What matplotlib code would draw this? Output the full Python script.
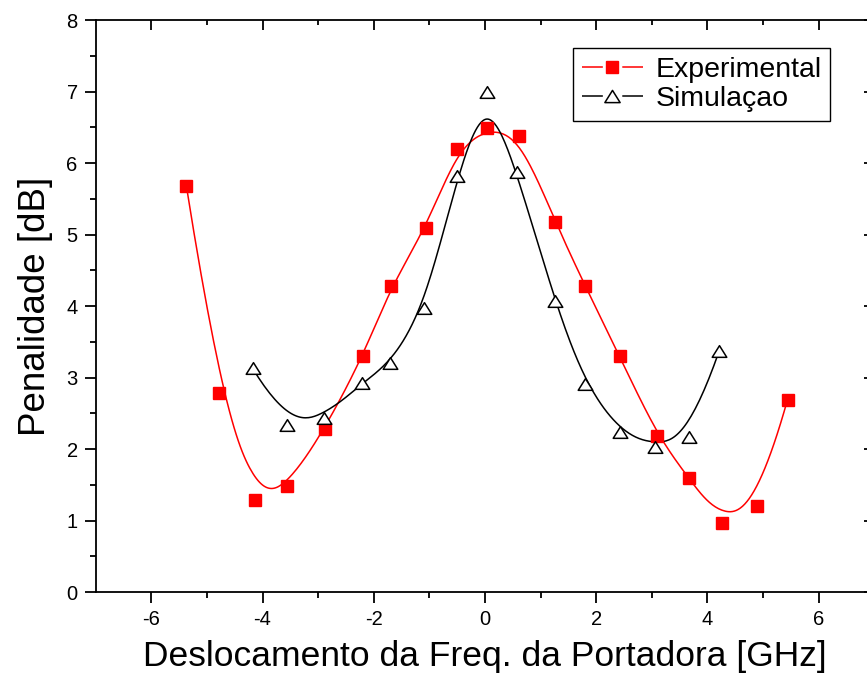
import numpy as np
import matplotlib.pyplot as plt
from matplotlib.path import Path

plt.rcParams['font.family'] = ['Liberation Sans', 'DejaVu Sans']
plt.rcParams['axes.unicode_minus'] = False
plt.rcParams['lines.scale_dashes'] = False

# Penalty vs carrier frequency offset
exp_freq = [-5.37, -4.78, -4.14, -3.56, -2.88, -2.19, -1.69, -1.06, -0.50, 0.04,
            0.62, 1.26, 1.80, 2.42, 3.10, 3.67, 4.26, 4.90, 5.44]
exp_pen = [5.68, 2.79, 1.29, 1.48, 2.28, 3.30, 4.28, 5.09, 6.19, 6.49,
           6.38, 5.18, 4.28, 3.30, 2.18, 1.59, 0.97, 1.20, 2.69]

sim_freq = [-4.18, -3.56, -2.90, -2.22, -1.70, -1.09, -0.50, 0.03, 0.58, 1.25,
            1.80, 2.43, 3.06, 3.67, 4.21]
sim_pen = [3.13, 2.34, 2.44, 2.92, 3.20, 3.97, 5.82, 7.00, 5.87, 4.07,
           2.91, 2.24, 2.03, 2.17, 3.37]


def bspline(xs, ys, npts=400):
    # clamped cubic B-spline using the data points as control points
    P = np.column_stack([xs, ys])
    n = len(P)
    k = 3
    knots = np.concatenate([np.zeros(k), np.arange(n - k + 1), np.full(k, n - k)]).astype(float)
    t = np.linspace(0, n - k, npts)
    t[-1] -= 1e-9
    N = np.zeros((npts, len(knots) - 1))
    for i in range(len(knots) - 1):
        N[:, i] = (knots[i] <= t) & (t < knots[i + 1])
    for d in range(1, k + 1):
        Nn = np.zeros((npts, len(knots) - 1 - d))
        for i in range(len(knots) - 1 - d):
            a = knots[i + d] - knots[i]
            b = knots[i + d + 1] - knots[i + 1]
            left = (t - knots[i]) / a * N[:, i] if a > 0 else 0
            right = (knots[i + d + 1] - t) / b * N[:, i + 1] if b > 0 else 0
            Nn[:, i] = left + right
        N = Nn
    C = N @ P
    return C[:, 0], C[:, 1]


tri = Path([(0, 0.8), (-1, -0.8), (1, -0.8), (0, 0.8)],
           [Path.MOVETO, Path.LINETO, Path.LINETO, Path.CLOSEPOLY])

fig = plt.figure(figsize=(8.67, 6.93), dpi=100)
ax = fig.add_axes([0.1104, 0.1457, 0.898, 0.8254])

ex, ey = bspline(exp_freq, exp_pen)
sx, sy = bspline(sim_freq, sim_pen)
ax.plot(ex, ey, color='red', lw=1.1, zorder=2)
ax.plot(sx, sy, color='black', lw=1.1, zorder=2)
ax.plot(exp_freq, exp_pen, ls='none', marker='s', ms=9, color='red', zorder=3)
ax.plot(sim_freq, sim_pen, ls='none', marker=tri, ms=10.5, mfc='white',
        mec='black', mew=1.1, zorder=4)

# legend handles: line - gap - marker - gap - line
dash = (0, (15, 14, 15, 0))
h1, = ax.plot([], [], color='red', lw=1.1, ls=dash, marker='s', ms=9)
h2, = ax.plot([], [], color='black', lw=1.1, ls=dash, marker=tri, ms=11,
              mfc='white', mec='black', mew=1.1)
leg = ax.legend([h1, h2], ['Experimental', 'Simulaçao'], loc='upper left',
                bbox_to_anchor=(573 / 867, 1 - 48 / 693), bbox_transform=fig.transFigure,
                borderaxespad=0, fontsize=20.5, numpoints=1,
                handlelength=44 / 20.5, handletextpad=0.45, borderpad=0.3,
                labelspacing=0.12, fancybox=False, framealpha=1)
leg.get_frame().set_edgecolor('black')
leg.get_frame().set_linewidth(1.0)

ax.set_xlim(-7, 7)
ax.set_ylim(0, 8)
ax.set_xticks([-6, -4, -2, 0, 2, 4, 6])
ax.set_xticks([-5, -3, -1, 1, 3, 5], minor=True)
ax.set_yticks(range(0, 9))
ax.set_yticks(np.arange(0.5, 8, 1), minor=True)

for s in ax.spines.values():
    s.set_linewidth(1.3)
ax.tick_params(which='both', labelsize=14.5, width=1.3, pad=5)
ax.tick_params(axis='x', which='both', direction='out', top=False)
ax.tick_params(axis='y', which='both', direction='out', right=False)
ax.tick_params(which='major', length=8)
ax.tick_params(which='minor', length=4.5)

# inward ticks on the top and right edges
ax_top = ax.secondary_xaxis('top')
ax_top.set_xticks([-6, -4, -2, 0, 2, 4, 6])
ax_top.set_xticks([-5, -3, -1, 1, 3, 5], minor=True)
ax_top.tick_params(which='both', direction='in', labeltop=False, width=1.3)
ax_top.tick_params(which='major', length=7)
ax_top.tick_params(which='minor', length=3.5)
ax_top.spines['top'].set_visible(False)
ax_right = ax.secondary_yaxis('right')
ax_right.set_yticks(range(0, 9))
ax_right.set_yticks(np.arange(0.5, 8, 1), minor=True)
ax_right.tick_params(which='both', direction='in', labelright=False, width=1.3)
ax_right.tick_params(which='major', length=7)
ax_right.tick_params(which='minor', length=3.5)
ax_right.spines['right'].set_visible(False)

ax.set_xlabel('Deslocamento da Freq. da Portadora [GHz]', fontsize=25.5, labelpad=8)
ax.set_ylabel('Penalidade [dB]', fontsize=26.5, labelpad=10)

fig.savefig('out.png', dpi=100)
